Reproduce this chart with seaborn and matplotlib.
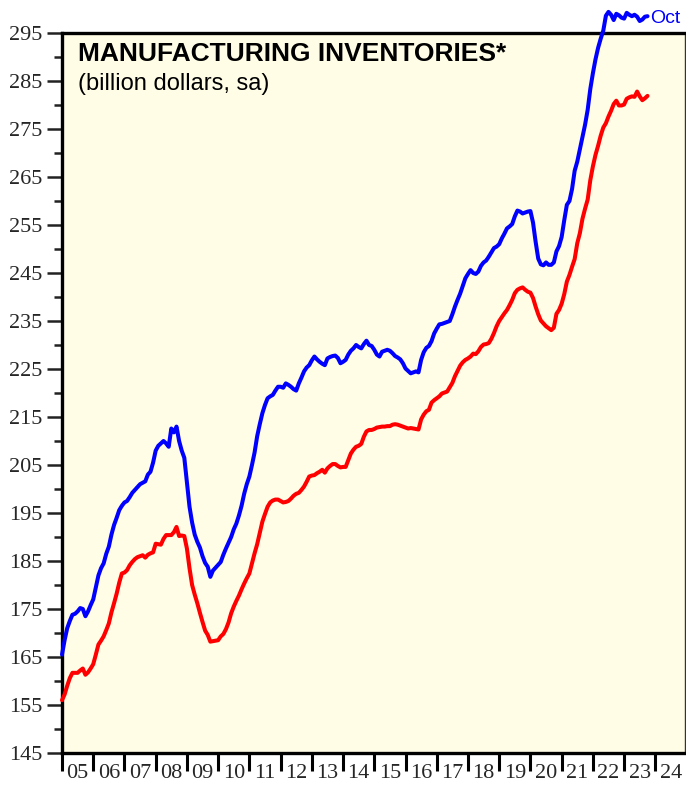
import numpy as np
import pandas as pd
import matplotlib
matplotlib.use("Agg")
import matplotlib.pyplot as plt
from matplotlib.ticker import FixedLocator, NullFormatter
import seaborn as sns

# Monthly data, Jan 2005 .. Oct 2023 (billion dollars, sa)
blue_values = [
    # 2005
    165.5, 168.5, 171.0, 172.5, 173.8, 174.0, 174.5, 175.2, 175.0, 173.5, 174.5, 175.8,
    # 2006
    177.0, 179.5, 182.0, 183.5, 184.5, 186.5, 188.0, 190.5, 192.5, 194.0, 195.6, 196.5,
    # 2007
    197.2, 197.5, 198.3, 199.2, 199.8, 200.4, 201.0, 201.3, 201.6, 203.0, 203.6, 205.5,
    # 2008
    208.0, 209.0, 209.5, 210.0, 209.5, 208.8, 212.6, 211.8, 213.0, 210.0, 208.0, 206.5,
    # 2009
    201.5, 196.3, 193.0, 190.5, 189.0, 187.8, 186.0, 184.6, 183.8, 181.7, 183.0, 183.6,
    # 2010
    184.2, 184.8, 186.3, 187.6, 188.8, 190.0, 191.6, 192.8, 194.5, 196.5, 199.0, 201.0,
    # 2011
    202.6, 205.0, 207.6, 211.0, 213.5, 215.8, 217.5, 218.9, 219.3, 219.6, 220.5, 221.3,
    # 2012
    221.3, 221.1, 222.0, 221.7, 221.3, 220.8, 220.5, 222.0, 223.2, 224.5, 225.3, 225.8,
    # 2013
    226.8, 227.6, 227.0, 226.5, 226.1, 225.8, 227.2, 227.5, 227.7, 227.8, 227.3, 226.2,
    # 2014
    226.5, 226.9, 228.0, 228.8, 229.3, 230.0, 229.6, 229.3, 230.2, 230.9, 230.0, 229.8,
    # 2015
    229.0, 228.0, 227.6, 228.6, 228.8, 229.0, 228.8, 228.3, 227.7, 227.4, 227.0, 226.2,
    # 2016
    225.1, 224.6, 224.1, 224.3, 224.5, 224.3, 226.9, 228.5, 229.4, 229.8, 230.8, 232.4,
    # 2017
    233.4, 234.3, 234.4, 234.6, 234.8, 235.0, 236.4, 238.0, 239.4, 240.7, 242.3, 243.9,
    # 2018
    244.8, 245.6, 245.0, 244.8, 245.3, 246.5, 247.2, 247.6, 248.4, 249.3, 250.2, 250.5,
    # 2019
    251.0, 252.2, 253.2, 254.3, 254.7, 255.2, 256.8, 258.0, 257.8, 257.4, 257.6, 257.8,
    # 2020
    257.9, 255.5, 251.5, 248.0, 246.8, 246.6, 247.2, 246.7, 246.7, 247.2, 249.5, 250.6,
    # 2021
    252.5, 256.0, 259.2, 260.0, 262.5, 266.3, 268.2, 270.8, 273.4, 275.9, 279.0, 283.3,
    # 2022
    286.6, 289.5, 291.9, 293.8, 295.5, 298.6, 299.4, 298.8, 297.7, 299.0, 298.7, 298.2,
    # 2023 (Jan..Oct)
    298.0, 299.2, 298.8, 298.5, 298.8, 298.4, 297.5, 297.8, 298.4, 298.5,
]

red_values = [
    # 2005
    156.0, 157.2, 159.0, 160.6, 161.7, 161.7, 161.7, 162.2, 162.6, 161.3, 161.8, 162.6,
    # 2006
    163.5, 165.5, 167.6, 168.4, 169.3, 170.6, 172.0, 174.3, 176.2, 178.2, 180.5, 182.4,
    # 2007
    182.6, 183.1, 184.1, 184.8, 185.4, 185.8, 186.0, 186.2, 185.7, 186.3, 186.6, 186.8,
    # 2008
    188.6, 188.5, 188.4, 189.6, 190.4, 190.4, 190.4, 191.0, 192.1, 190.2, 190.3, 190.2,
    # 2009
    187.6, 183.5, 180.0, 178.0, 176.2, 174.2, 172.3, 170.5, 169.6, 168.2, 168.3, 168.4,
    # 2010
    168.5, 169.3, 169.8, 170.8, 172.2, 174.1, 175.5, 176.7, 177.8, 179.1, 180.3, 181.4,
    # 2011
    182.4, 184.5, 186.6, 188.5, 190.8, 193.2, 194.8, 196.3, 197.2, 197.6, 197.8, 197.8,
    # 2012
    197.5, 197.2, 197.3, 197.5, 198.0, 198.6, 199.0, 199.2, 199.8, 200.5, 201.5, 202.6,
    # 2013
    202.8, 202.9, 203.3, 203.6, 204.0, 203.4, 204.3, 204.8, 205.2, 205.2, 204.8, 204.5,
    # 2014
    204.6, 204.6, 206.0, 207.4, 208.2, 208.8, 209.0, 209.4, 210.9, 212.0, 212.3, 212.3,
    # 2015
    212.5, 212.8, 212.9, 213.0, 213.0, 213.1, 213.1, 213.4, 213.5, 213.4, 213.2, 213.0,
    # 2016
    212.8, 212.6, 212.7, 212.6, 212.5, 212.4, 214.5, 215.5, 216.2, 216.5, 218.0, 218.5,
    # 2017
    218.9, 219.3, 219.9, 220.1, 220.3, 221.2, 222.1, 223.5, 224.6, 225.7, 226.4, 226.9,
    # 2018
    227.2, 227.6, 228.2, 228.1, 228.7, 229.6, 230.1, 230.2, 230.4, 231.3, 232.5, 233.9,
    # 2019
    235.0, 235.8, 236.6, 237.3, 238.3, 239.4, 240.8, 241.5, 241.8, 242.0, 241.5, 241.1,
    # 2020
    240.9, 239.8, 238.0, 236.4, 235.1, 234.5, 233.9, 233.5, 233.1, 233.6, 236.5, 237.3,
    # 2021
    238.6, 240.6, 243.2, 244.6, 246.3, 247.9, 251.2, 253.3, 256.3, 258.4, 260.3, 264.3,
    # 2022
    267.2, 269.6, 271.5, 273.6, 275.3, 276.2, 277.6, 278.8, 280.2, 280.9, 279.9, 279.9,
    # 2023 (Jan..Oct)
    280.1, 281.3, 281.6, 281.8, 281.7, 282.8, 281.8, 281.0, 281.4, 281.9,
]

year_labels = ["05", "06", "07", "08", "09", "10", "11", "12", "13", "14",
               "15", "16", "17", "18", "19", "20", "21", "22", "23", "24"]
y_major_ticks = [145, 155, 165, 175, 185, 195, 205, 215, 225, 235,
                 245, 255, 265, 275, 285, 295]
title_text = "MANUFACTURING INVENTORIES*"
subtitle_text = "(billion dollars, sa)"
end_label = "Oct"

n = len(blue_values)
t = 2005 + np.arange(n) / 12.0
df = pd.DataFrame({"t": np.concatenate([t, t]),
                   "value": blue_values + red_values,
                   "series": ["blue"] * n + ["red"] * n})

sns.set_style("ticks")
plt.rcParams["font.family"] = ["Liberation Sans", "DejaVu Sans"]

fig = plt.figure(figsize=(6.86, 7.85), dpi=100)
ax = fig.add_axes([62 / 686, 32 / 785, (685 - 62) / 686, (753 - 33) / 785])
ax.set_facecolor("#fffde6")

sns.lineplot(data=df, x="t", y="value", hue="series",
             palette={"blue": "#0000ff", "red": "#ff0000"},
             linewidth=2.9, legend=False, ax=ax, zorder=5)
for line in ax.get_lines():
    line.set_clip_on(False)
    line.set_solid_joinstyle("round")

ax.set_xlim(2005, 2024.95)
ax.set_ylim(145, 295)
ax.set_xlabel("")
ax.set_ylabel("")

# y axis
ax.yaxis.set_major_locator(FixedLocator(y_major_ticks))
ax.yaxis.set_minor_locator(FixedLocator(np.array(y_major_ticks[:-1]) + 5))
ax.tick_params(axis="y", which="major", direction="out", length=11, width=1.8,
               color="#222222", labelsize=16, pad=3)
ax.tick_params(axis="y", which="minor", direction="out", length=5.5, width=1.8,
               color="#222222")
for lab in ax.get_yticklabels():
    lab.set_fontfamily(["Liberation Serif", "DejaVu Serif"])

# x axis: ticks at year boundaries, labels centred in each year
years = np.arange(2005, 2025)
ax.xaxis.set_major_locator(FixedLocator(years))
ax.xaxis.set_major_formatter(NullFormatter())
ax.xaxis.set_minor_locator(FixedLocator(years + 0.5))
ax.set_xticklabels(year_labels, minor=True)
ax.tick_params(axis="x", which="major", direction="out", length=13, width=2.2,
               color="black")
ax.tick_params(axis="x", which="minor", length=0, labelsize=16, pad=8)
for lab in ax.get_xticklabels(minor=True):
    lab.set_fontfamily(["Liberation Serif", "DejaVu Serif"])

for side in ["left", "bottom", "top"]:
    ax.spines[side].set_linewidth(2.4)
    ax.spines[side].set_color("black")
ax.spines["right"].set_linewidth(1.0)
ax.spines["right"].set_color("#333333")
ax.spines["top"].set_zorder(4)

ax.text(0.025, 0.988, title_text, transform=ax.transAxes, fontsize=19,
        fontweight="bold", va="top", ha="left", color="black")
ax.text(0.025, 0.945, subtitle_text, transform=ax.transAxes, fontsize=17,
        va="top", ha="left", color="black")

ax.annotate(end_label, xy=(t[-1], blue_values[-1]), xytext=(2, -2),
            textcoords="offset points", fontsize=14, color="#0000ff",
            va="center", ha="left", annotation_clip=False)

fig.savefig("out.png", dpi=100, facecolor="white")
